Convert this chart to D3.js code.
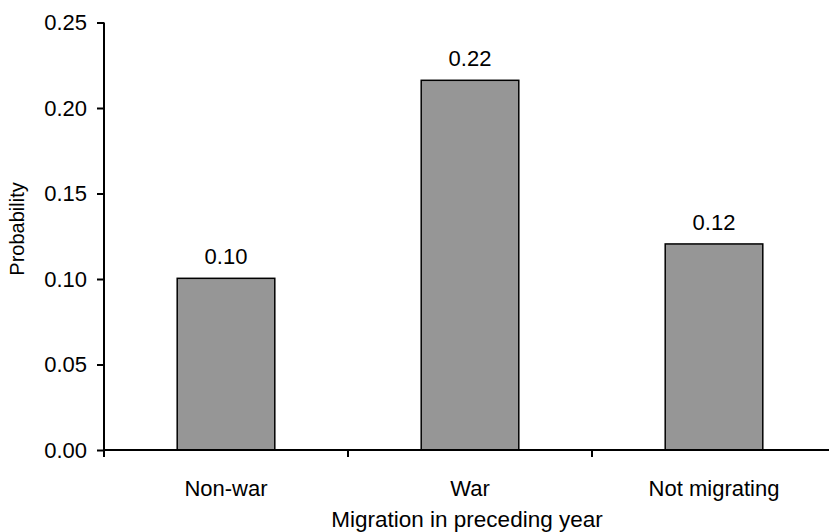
<!DOCTYPE html>
<html><head><meta charset="utf-8">
<script src="https://cdn.jsdelivr.net/npm/d3@7"></script>
<style>body{margin:0;background:#fff}svg{display:block}text{font-family:"Liberation Sans",Arial,sans-serif;fill:#000}</style>
</head><body><svg id="c" width="829" height="532"></svg>
<script>
const categories = ["Non-war", "War", "Not migrating"];
const values = [0.1004, 0.2162, 0.1205];
const valueLabels = ["0.10", "0.22", "0.12"];
const yTicks = [0, 0.05, 0.10, 0.15, 0.20, 0.25];

(function(){
const svg = d3.select("#c");
const mLeft = 104, mRight = 836, mTop = 22.5, mBottom = 450;
const x = d3.scaleBand().domain(categories).range([mLeft, mRight]).paddingInner(0.6).paddingOuter(0.3);
const y = d3.scaleLinear().domain([0, 0.25]).range([mBottom, mTop]);
const fs = 22;

svg.selectAll("rect.bar").data(categories).enter().append("rect")
  .attr("x", d => x(d)).attr("y", (d,i) => y(values[i]))
  .attr("width", x.bandwidth()).attr("height", (d,i) => y(0) - y(values[i]))
  .attr("fill", "#969696").attr("stroke", "#000").attr("stroke-width", 1.5);

svg.selectAll("text.val").data(categories).enter().append("text")
  .attr("x", d => x(d) + x.bandwidth()/2).attr("y", (d,i) => y(values[i]) - 14)
  .attr("text-anchor", "middle").attr("font-size", fs).text((d,i) => valueLabels[i]);

const yAxis = d3.axisLeft(y).tickValues(yTicks).tickFormat(d3.format(".2f")).tickSize(7).tickPadding(10);
const gy = svg.append("g").attr("transform", `translate(${mLeft},0)`).call(yAxis);
gy.select(".domain").attr("d", `M0,${mTop}V${mBottom + 7}`).attr("stroke-width", 2);
gy.selectAll(".tick line").attr("stroke-width", 2);
gy.selectAll(".tick text").attr("font-size", fs).attr("font-family", "Liberation Sans, Arial, sans-serif").attr("fill", "#000");

const xAxis = d3.axisBottom(x).tickSize(0).tickPadding(30);
const gx = svg.append("g").attr("transform", `translate(0,${mBottom})`).call(xAxis);
gx.select(".domain").attr("d", `M${mLeft},0H${mRight}`).attr("stroke-width", 2);
gx.selectAll(".tick text").attr("font-size", fs).attr("font-family", "Liberation Sans, Arial, sans-serif").attr("fill", "#000");
const step = x.step();
const bounds = categories.slice(1).map(c => x(c) - (step - x.bandwidth())/2);
gx.selectAll("line.sep").data(bounds).enter().append("line")
  .attr("x1", d => d).attr("x2", d => d).attr("y1", 0).attr("y2", 7)
  .attr("stroke", "#000").attr("stroke-width", 2);

svg.append("text").attr("x", (mLeft + mRight)/2 - 3).attr("y", 527).attr("text-anchor", "middle")
  .attr("font-size", fs + 0.5).text("Migration in preceding year");
svg.append("text").attr("transform", `translate(24,229) rotate(-90)`).attr("text-anchor", "middle")
  .attr("font-size", 20).text("Probability");
})();
</script></body></html>
